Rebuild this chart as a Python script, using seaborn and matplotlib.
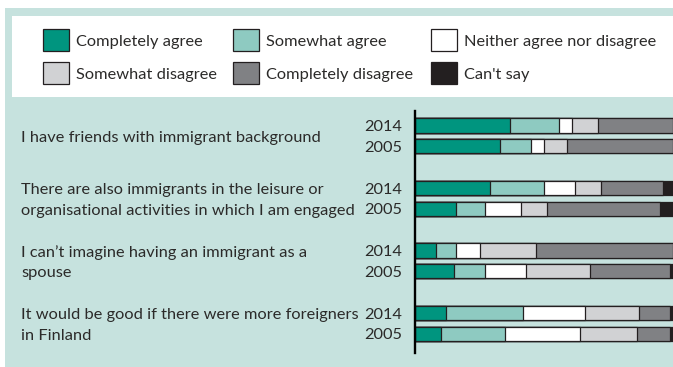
import numpy as np
import pandas as pd
import matplotlib
matplotlib.use("Agg")
import matplotlib.pyplot as plt
from matplotlib.patches import Rectangle
import seaborn as sns

# Survey statements and years
statements = [
    "I have friends with immigrant background",
    "There are also immigrants in the leisure or\norganisational activities in which I am engaged",
    "I can\u2019t imagine having an immigrant as a\nspouse",
    "It would be good if there were more foreigners\nin Finland",
]
years = ["2014", "2005"]

# Answer categories and their colours
categories = ["Completely agree", "Somewhat agree", "Neither agree nor disagree",
              "Somewhat disagree", "Completely disagree", "Can't say"]
colors = ["#00957f", "#8ecac1", "#ffffff", "#d1d2d4", "#808184", "#231f20"]

# Shares (%) per statement, one list per year
completely_agree    = [37, 33, 29, 16, 8, 15, 12, 10]
somewhat_agree      = [19, 12, 21, 11, 8, 12, 30, 25]
neither             = [5, 5, 12, 14, 9, 16, 24, 29]
somewhat_disagree   = [10, 9, 10, 10, 22, 25, 21, 22]
completely_disagree = [29, 41, 24, 44, 53, 31, 12, 13]
cant_say            = [0, 0, 4, 5, 0, 1, 1, 1]

series = [completely_agree, somewhat_agree, neither,
          somewhat_disagree, completely_disagree, cant_say]

W, H, DPI = 673, 367, 100
TEXT = "#2b2a29"
PANEL = "#c6e2de"
FS = 11.8

sns.set_style("white")
plt.rcParams["font.family"] = ["Lato", "DejaVu Sans"]

fig = plt.figure(figsize=(W / DPI, H / DPI), dpi=DPI)
fig.patch.set_facecolor("white")


def px(x, y):
    """pixel (from top-left) to figure fraction"""
    return x / W, 1 - y / H


# light teal panel and white legend box
fig.patches.append(Rectangle(px(5, 367), (W - 5) / W, (367 - 8) / H,
                             transform=fig.transFigure, facecolor=PANEL,
                             edgecolor="none", zorder=-3))
fig.patches.append(Rectangle(px(12, 97), (W - 12) / W, (97 - 16) / H,
                             transform=fig.transFigure, facecolor="white",
                             edgecolor="none", zorder=-2))

# legend: 3 columns x 2 rows
leg_cols = [43, 233, 431]
leg_rows = [29, 62]
for k, (cat, col) in enumerate(zip(categories, colors)):
    r, c = divmod(k, 3)
    x0, y0 = leg_cols[c], leg_rows[r]
    fig.patches.append(Rectangle(px(x0, y0 + 22), 26 / W, 22 / H,
                                 transform=fig.transFigure, facecolor=col,
                                 edgecolor="#231f20", linewidth=0.9, zorder=2))
    fx, fy = px(x0 + 33, y0 + 13)
    fig.text(fx, fy, cat, ha="left", va="center", fontsize=FS, color=TEXT)

# bar axes
ax = fig.add_axes([415 / W, 1 - 353 / H, (W - 415) / W, (353 - 111) / H])
ax.set_facecolor("none")
ax.set_zorder(1)

positions = []
for i in range(len(statements)):
    positions += [3 * i, 3 * i + 1]

df = pd.DataFrame({cat: vals for cat, vals in zip(categories, series)})
df["pos"] = positions
cum = df[categories].cumsum(axis=1)

# stacked bars: draw cumulative totals from the right-most category back
for cat, col in reversed(list(zip(categories, colors))):
    d = pd.DataFrame({"value": cum[cat], "pos": df["pos"]})
    sns.barplot(data=d, x="value", y="pos", orient="h", native_scale=True,
                color=col, saturation=1, edgecolor="#231f20", linewidth=0.9,
                width=0.68, errorbar=None, ax=ax)

ax.set_xlim(0, 100)
ax.set_ylim(10.92, -0.7)
ax.set_xlabel("")
ax.set_ylabel("")
ax.set_xticks([])
ax.set_yticks(positions)
ax.set_yticklabels(years * len(statements), fontsize=FS, color=TEXT)
ax.tick_params(axis="y", length=0, pad=9)
for s in ["top", "right", "bottom"]:
    ax.spines[s].set_visible(False)
ax.spines["left"].set_linewidth(1.7)
ax.spines["left"].set_color("#000000")

# statement labels
trans = matplotlib.transforms.blended_transform_factory(fig.transFigure, ax.transData)
dy = 0.08
for i, st in enumerate(statements):
    lines = st.split("\n")
    if len(lines) == 1:
        ax.text(21 / W, 3 * i + 0.5 + dy, lines[0], transform=trans, ha="left",
                va="center", fontsize=FS, color=TEXT, clip_on=False)
    else:
        for j, ln in enumerate(lines):
            ax.text(21 / W, 3 * i + j + dy, ln, transform=trans, ha="left",
                    va="center", fontsize=FS, color=TEXT, clip_on=False)

fig.savefig("out.png", dpi=DPI)
